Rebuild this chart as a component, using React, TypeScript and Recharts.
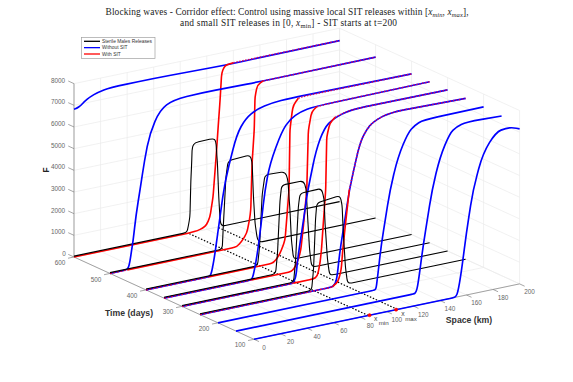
import { LineChart, Line, XAxis, YAxis, LabelList } from 'recharts';

type Pt = [number, number];

const spaceTicks = [0, 20, 40, 60, 80, 100, 120, 140, 160, 180, 200];
const timeTicks = [100, 200, 300, 400, 500, 600];
const femaleTicks = [0, 1000, 2000, 3000, 4000, 5000, 6000, 7000, 8000];

// [space km, F]
const blue100: Pt[] = [[0, 0], [150, 0], [152, 30], [153.5, 200], [156, 1050], [159.9, 2850], [164.9, 4780], [172.4, 6390], [182.2, 7230], [189.8, 7320], [195, 7280], [200, 7155]];
const blue150: Pt[] = [[0, 0], [134, 0], [135.5, 40], [137, 370], [140.8, 2080], [147.6, 4620], [153.6, 6070], [161, 7075], [166, 7300], [173.2, 7430], [200, 7370]];
const blue200: Pt[] = [[0, 0], [117.5, 0], [119, 40], [120.5, 740], [122.7, 1930], [129.5, 4470], [135.5, 5920], [143, 6930], [148, 7220], [154.4, 7385], [200, 7410]];
const blue250: Pt[] = [[0, 0], [99, 0], [101, 60], [103, 280], [105.4, 1630], [109.2, 3000], [112.4, 4315], [120.3, 6370], [125, 6900], [130.3, 7236], [142.8, 7500], [200, 7420]];
const blue300: Pt[] = [[0, 0], [83, 0], [83.8, 20], [85.8, 270], [86.8, 900], [88.1, 1480], [92.6, 3250], [94.1, 3950], [100.9, 5910], [107, 6850], [113.7, 7200], [126.5, 7450], [200, 7435]];
const blue350: Pt[] = [[0, 0], [65, 0], [66.5, 40], [68, 400], [70.3, 1160], [72.3, 2060], [76, 4015], [79.8, 5195], [88.6, 6550], [94.9, 7050], [103, 7290], [112.4, 7390], [200, 7430]];
const blue400: Pt[] = [[0, 0], [47, 0], [48.7, 40], [50, 350], [52, 1030], [55.7, 2670], [59.5, 4250], [68.3, 6300], [75, 6950], [83.4, 7270], [95, 7420], [108.4, 7460], [200, 7415]];
const blue500: Pt[] = [[0, 0], [12, 5], [13.8, 65], [15, 350], [16.3, 880], [17.5, 1325], [19.6, 2450], [22.6, 3560], [26, 4900], [30, 6090], [37.6, 7065], [47.7, 7400], [67.8, 7450], [115, 7410], [200, 7425]];
const blue600: Pt[] = [[0, 6820], [2, 6830], [5, 6920], [8, 7080], [12, 7230], [18, 7370], [27, 7470], [60, 7470], [115, 7400], [200, 7430]];

const red250: Pt[] = [[0, 0], [98, 0], [100.4, 40], [104, 190], [106.3, 700], [107.5, 1600], [109.4, 2700], [112.4, 4315], [120.3, 6370], [125, 6900], [130.3, 7236], [142.8, 7500], [200, 7420]];
const red300: Pt[] = [[0, 0], [98.9, 0], [101.9, 70], [103.9, 660], [105, 1260], [105.9, 2040], [108.2, 3990], [109, 6440], [111.4, 7040], [115.2, 7250], [126.5, 7450], [200, 7435]];
const red350: Pt[] = [[0, 0], [94, 0], [97.4, 46], [101, 460], [103, 900], [104.9, 1950], [107.5, 3610], [108.7, 6360], [111.2, 7180], [115, 7360], [125, 7400], [200, 7430]];
const red400: Pt[] = [[0, 0], [93, 10], [96, 30], [99.6, 260], [102, 540], [104.7, 970], [106.7, 2480], [107.7, 3240], [108.4, 6000], [110, 6800], [111, 7120], [114.7, 7380], [120, 7420], [200, 7415]];
const red500: Pt[] = [[0, 0], [92, 0], [95.4, 15], [99, 200], [103, 540], [105, 1125], [106, 1570], [107, 3730], [108.6, 5230], [109.2, 6760], [111, 7280], [115.4, 7410], [200, 7425]];
const red600: Pt[] = [[0, 0], [88, 0], [93, 30], [97, 90], [100, 220], [102.4, 550], [104.7, 1430], [107, 3250], [108.4, 4480], [110, 5840], [111.2, 7070], [113, 7320], [115, 7400], [120, 7430], [200, 7430]];

const black250: Pt[] = [[0, 40], [84, 40], [85.5, 1000], [87, 3300], [88, 4024], [105.4, 4150], [107, 3700], [107.7, 2660], [109.5, 800], [111, 70], [113, 0], [200, 0]];
const black300: Pt[] = [[0, 40], [84, 40], [85.5, 1000], [87.6, 3480], [88.9, 4080], [105, 4100], [107, 3600], [107.7, 2475], [109.5, 800], [111, 80], [113, 0], [200, 0]];
const black350: Pt[] = [[0, 40], [84, 40], [85.5, 1000], [87.3, 3350], [88.6, 4080], [105, 4080], [107, 3700], [108.2, 2300], [109.6, 850], [111, 100], [113, 0], [200, 0]];
const black400: Pt[] = [[0, 40], [84, 40], [85.5, 900], [87.5, 3300], [89.6, 4160], [104.7, 4120], [106.8, 3750], [108.4, 2300], [109.5, 900], [111, 60], [113, 0], [200, 0]];
const black500: Pt[] = [[0, 40], [84.5, 40], [85.3, 1070], [87.3, 3350], [89, 4065], [105.4, 4120], [107, 3790], [108, 2185], [109.2, 930], [111, 130], [113, 0], [200, 0]];
const black600: Pt[] = [[0, 40], [85, 40], [86, 300], [87.3, 740], [88, 2400], [88.6, 3200], [89, 3950], [91, 4110], [105, 4130], [106.8, 4000], [108, 2950], [109, 1390], [110, 300], [111, 0], [200, 0]];

const xMin = 86;
const xMax = 108;

// footX/mergeX: where the with-SIT curve leaves / rejoins the without-SIT one
const slices = [
  { t: 600, blue: blue600, red: red600, black: black600, footX: 0, mergeX: 120 },
  { t: 500, blue: blue500, red: red500, black: black500, footX: 13, mergeX: 115.4 },
  { t: 400, blue: blue400, red: red400, black: black400, footX: 48, mergeX: 114.7 },
  { t: 350, blue: blue350, red: red350, black: black350, footX: 66, mergeX: 115 },
  { t: 300, blue: blue300, red: red300, black: black300, footX: 84, mergeX: 115.2 },
  { t: 250, blue: blue250, red: red250, black: black250, footX: 100, mergeX: 112.4 },
  { t: 200, blue: blue200 },
  { t: 150, blue: blue150 },
  { t: 100, blue: blue100 },
];

// the 3D view of the original figure, flattened onto the chart's plane
const project = (x: number, t: number, f: number) => ({
  px: 254 + 1.328 * x - 0.36 * (t - 100),
  py: 339.3 - 0.277 * x - 0.1646 * (t - 100) - f * 0.02167,
});
const curve = (pts: Pt[], t: number) => pts.map(([x, f]) => project(x, t, f));
const seg = (a: number[], b: number[]) => [project(a[0], a[1], a[2]), project(b[0], b[1], b[2])];

// d3-style curve: straight runs stay straight, only the knees get rounded
const rounded = (cap: number) => (ctx: any) => {
  let pts: number[][] = [];
  return {
    areaStart() {},
    areaEnd() {},
    lineStart() { pts = []; },
    point(x: number, y: number) { pts.push([x, y]); },
    lineEnd() {
      pts.forEach((p, i) => {
        if (i === 0) { ctx.moveTo(p[0], p[1]); return; }
        if (i === pts.length - 1) { ctx.lineTo(p[0], p[1]); return; }
        const a = pts[i - 1];
        const b = pts[i + 1];
        const la = Math.hypot(p[0] - a[0], p[1] - a[1]) || 1;
        const lb = Math.hypot(b[0] - p[0], b[1] - p[1]) || 1;
        const ra = Math.min(la / 2, lb * 2, cap);
        const rb = Math.min(lb / 2, la * 2, cap);
        ctx.lineTo(p[0] - ((p[0] - a[0]) / la) * ra, p[1] - ((p[1] - a[1]) / la) * ra);
        ctx.quadraticCurveTo(p[0], p[1], p[0] + ((b[0] - p[0]) / lb) * rb, p[1] + ((b[1] - p[1]) / lb) * rb);
      });
    },
  };
};
const waveCurve: any = rounded(16);
const pulseCurve: any = rounded(4);

const gridLines = [
  ...spaceTicks.map((x) => seg([x, 600, 0], [x, 600, 8000])),
  ...spaceTicks.map((x) => seg([x, 100, 0], [x, 600, 0])),
  ...femaleTicks.map((f) => seg([0, 600, f], [200, 600, f])),
  ...femaleTicks.map((f) => seg([200, 100, f], [200, 600, f])),
  ...timeTicks.map((t) => seg([200, t, 0], [200, t, 8000])),
  ...timeTicks.map((t) => seg([0, t, 0], [200, t, 0])),
];

const axisLines = [
  seg([0, 600, 0], [0, 600, 8000]),
  seg([0, 100, 0], [0, 600, 0]),
  seg([0, 100, 0], [200, 100, 0]),
  ...femaleTicks.map((f) => seg([0, 600, f], [0, 616, f])),
  ...timeTicks.map((t) => seg([0, t, 0], [-4.5, t, 0])),
  ...spaceTicks.map((x) => seg([x, 100, 0], [x, 86, 0])),
];

const tickLabels = [
  ...femaleTicks.map((f) => {
    const p = project(0, 600, f);
    return { px: p.px - (f === 0 ? 10 : 16), py: p.py - 3.4, text: String(f) };
  }),
  ...timeTicks.map((t) => {
    const p = project(0, t, 0);
    return { px: p.px - 14, py: p.py + 5.8, text: String(t) };
  }),
  ...spaceTicks.map((x) => {
    const p = project(x, 100, 0);
    return { px: p.px + 10, py: p.py + 8.2, text: String(x) };
  }),
];

const dotted = [seg([xMin, 100, 0], [xMin, 600, 0]), seg([xMax, 100, 0], [xMax, 600, 0])];
const releaseDots = [project(87, 100, 0), project(107, 100, 0)];

const legendRows = [
  { label: 'Sterile Males Releases', color: '#000000' },
  { label: 'Without SIT', color: '#0000ff' },
  { label: 'With SIT', color: '#ff0000' },
];

const base = { dataKey: 'py', dot: false, isAnimationActive: false, legendType: 'none' as const, activeDot: false };

export default function App() {
  return (
    <div style={{ position: 'absolute', left: 0, top: 0, width: 573, height: 382, background: '#fff' }}>
      <LineChart width={573} height={382} margin={{ top: 0, right: 0, bottom: 0, left: 0 }}>
        <XAxis hide type="number" dataKey="px" domain={[0, 573]} allowDataOverflow />
        <YAxis hide type="number" domain={[0, 382]} reversed allowDataOverflow />

        {gridLines.map((d, i) => (
          <Line key={`g${i}`} {...base} data={d} stroke="#ebebeb" strokeWidth={0.7} type="linear" />
        ))}
        {axisLines.map((d, i) => (
          <Line key={`a${i}`} {...base} data={d} stroke="#808080" strokeWidth={0.7} type="linear" />
        ))}

        {dotted.map((d, i) => (
          <Line key={`d${i}`} {...base} data={d} stroke="#000" strokeWidth={1.2} strokeDasharray="1.5 1.7" type="linear" />
        ))}

        {slices.map((s) => {
          const lines = [
            <Line key={`b${s.t}`} {...base} data={curve(s.blue, s.t)} stroke="#0000ff" strokeWidth={1.65} type={waveCurve} />,
          ];
          if (s.red) {
            const low = s.red.filter((p) => p[0] <= s.footX);
            const mid = s.red.filter((p) => p[0] >= s.footX && p[0] <= s.mergeX);
            const high = s.red.filter((p) => p[0] >= s.mergeX);
            if (s.footX > 0) {
              mid.unshift([s.footX, 0]);
              low.push([s.footX, 0]);
              lines.push(<Line key={`rl${s.t}`} {...base} data={curve(low, s.t)} stroke="#e0004a" strokeWidth={1.5} strokeDasharray="2 1.5" type="linear" />);
            }
            lines.push(<Line key={`rm${s.t}`} {...base} data={curve(mid, s.t)} stroke="#ff0000" strokeWidth={1.6} type={pulseCurve} />);
            lines.push(<Line key={`rh${s.t}`} {...base} data={curve(high, s.t)} stroke="#e00050" strokeOpacity={0.9} strokeWidth={1.5} strokeDasharray="1.5 1.5" type={waveCurve} />);
          }
          if (s.black) {
            lines.push(<Line key={`k${s.t}`} {...base} data={curve(s.black, s.t)} stroke="#000" strokeWidth={1.1} type={pulseCurve} />);
          }
          return lines;
        })}

        <Line {...base} data={releaseDots} stroke="none" dot={{ r: 1.6, fill: '#ff0000', stroke: '#ff0000', strokeWidth: 0.5 }} />

        <Line {...base} data={tickLabels} stroke="none">
          <LabelList dataKey="text" position="center" fill="#666" fontSize={6.4} fontFamily="Liberation Sans" />
        </Line>

        {/* title, axis names, legend */}
        <g fontFamily="Liberation Serif" fill="#222" fontSize={9.4} textAnchor="middle">
          <text x={287} y={15} textLength={363} lengthAdjust="spacing">
            Blocking waves - Corridor effect: Control using massive local SIT releases within [
            <tspan fontStyle="italic">x</tspan>
            <tspan fontStyle="italic" fontSize={6.5} dy={2}>min</tspan>
            <tspan dy={-2}>, </tspan>
            <tspan fontStyle="italic">x</tspan>
            <tspan fontStyle="italic" fontSize={6.5} dy={2}>max</tspan>
            <tspan dy={-2}>],</tspan>
          </text>
          <text x={288.5} y={26} textLength={217} lengthAdjust="spacing">
            and small SIT releases in [0,
            <tspan fontStyle="italic"> x</tspan>
            <tspan fontSize={6.5} dy={2}>min</tspan>
            <tspan dy={-2}>] - SIT starts at t=200</tspan>
          </text>
        </g>

        <g fontFamily="Liberation Sans">
          <text x={0} y={0} transform="translate(48.5,170) rotate(-90)" textAnchor="middle" fontSize={8.5} fontWeight="bold" fill="#222">F</text>
          <text x={129} y={316} textAnchor="middle" fontSize={8.7} fontWeight="bold" fill="#333">Time (days)</text>
          <text x={469} y={322.5} textAnchor="middle" fontSize={8.7} fontWeight="bold" fill="#333">Space (km)</text>
          <text x={375.7} y={321} textAnchor="middle" fontSize={6.8} fill="#444">x</text>
          <text x={383.7} y={325} textAnchor="middle" fontSize={6.2} fill="#444">min</text>
          <text x={403} y={316} textAnchor="middle" fontSize={6.8} fill="#444">x</text>
          <text x={411} y={320.5} textAnchor="middle" fontSize={6.2} fill="#444">max</text>
        </g>

        <g fontFamily="Liberation Sans">
          <rect x={81.5} y={37.5} width={73.5} height={21} fill="#fff" stroke="#a0a0a0" strokeWidth={0.7} />
          {legendRows.map((r, i) => (
            <g key={r.label}>
              <line x1={84} x2={100} y1={41.3 + i * 6.35} y2={41.3 + i * 6.35} stroke={r.color} strokeWidth={1.3} />
              <text x={102} y={43.1 + i * 6.35} fontSize={4.9} fill="#333">{r.label}</text>
            </g>
          ))}
        </g>
      </LineChart>
    </div>
  );
}
